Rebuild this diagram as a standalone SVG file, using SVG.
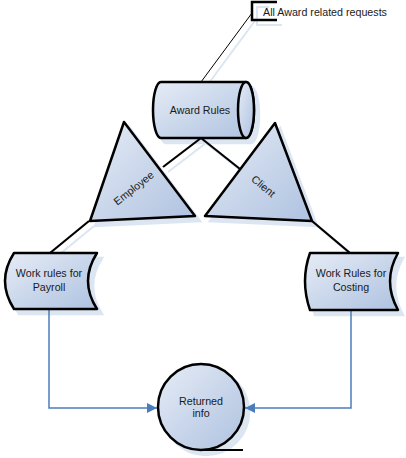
<svg xmlns="http://www.w3.org/2000/svg" width="406" height="458" viewBox="0 0 406 458">
<defs>
<linearGradient id="g" x1="0" y1="0" x2="1" y2="1">
<stop offset="0" stop-color="#e6ecf6"/>
<stop offset="1" stop-color="#aec2e0"/>
</linearGradient>
<marker id="arr" viewBox="0 0 10 10" refX="10" refY="5" markerWidth="10" markerHeight="10" markerUnits="userSpaceOnUse" orient="auto">
<path d="M0,0 L10,5 L0,10 Z" fill="#4a7ebb"/>
</marker>
</defs>
<style>
.sh{fill:#dce6f2;stroke:#dce6f2;stroke-width:2.5}
.shl{fill:none;stroke:#dce6f2;stroke-width:2}
.n{fill:url(#g);stroke:#000;stroke-width:2.5;stroke-linejoin:round}
.l{fill:none;stroke:#000;stroke-width:2.2}
.b{fill:none;stroke:#4a7ebb;stroke-width:1.5}
text{font-family:"Liberation Sans",Arial,sans-serif;font-size:10.7px;fill:#1a1a1a;text-anchor:middle}
</style>
<g id="shadows" transform="translate(5,5)">
<path class="shl" d="M252,13 L201,82" stroke-width="1"/>
<path class="shl" d="M264,2 H252 V20 H277"/>
<path class="shl" d="M201,138 L163,167 M201,138 L240,169 M89,221 L50,253 M312,221 L350,253"/>
<path class="sh" d="M161,82 L246,82 A8,28 0 0 1 246,138 L161,138 A8,28 0 0 1 161,82 Z"/>
<path class="sh" d="M124,122 L195,216 L90,221 Z"/>
<path class="sh" d="M275,123 L312,221 L205,216 Z"/>
<path class="sh" d="M14,253 L97,253 Q79,281 97,309 L14,309 Q-4,281 14,253 Z"/>
<path class="sh" d="M310,253 L398,253 Q382,281 398,310 L310,310 Q300,281 310,253 Z"/>
<circle class="sh" cx="201" cy="407" r="43"/>
</g>
<g id="connectors">
<path d="M252,13 L201,82" fill="none" stroke="#000" stroke-width="1"/>
<path class="l" d="M201,138 L163,167"/>
<path class="l" d="M201,138 L240,169"/>
<path class="l" d="M89,221 L50,253"/>
<path class="l" d="M312,221 L350,253"/>
<path class="b" d="M49,309 V408 H157" marker-end="url(#arr)"/>
<path class="b" d="M351,310 V408 H245" marker-end="url(#arr)"/>
</g>
<g id="annotation">
<path d="M277,2 H252 V20 H277" fill="none" stroke="#000" stroke-width="2.5"/>
<text x="263" y="16" style="text-anchor:start">All Award related requests</text>
</g>
<g id="award-rules">
<path class="n" d="M161,82 L246,82 A8,28 0 0 1 246,138 L161,138 A8,28 0 0 1 161,82 Z"/>
<ellipse class="n" cx="246" cy="110" rx="8" ry="28"/>
<text x="200" y="114">Award Rules</text>
</g>
<g id="employee">
<path class="n" d="M124,122 L195,216 L90,221 Z"/>
<text x="0" y="0" transform="translate(136,191) rotate(-38)">Employee</text>
</g>
<g id="client">
<path class="n" d="M275,123 L312,221 L205,216 Z"/>
<text x="0" y="0" transform="translate(261,189) rotate(40)">Client</text>
</g>
<g id="payroll">
<path class="n" d="M14,253 L97,253 Q79,281 97,309 L14,309 Q-4,281 14,253 Z"/>
<text x="49" y="277">Work rules for</text>
<text x="49" y="291">Payroll</text>
</g>
<g id="costing">
<path class="n" d="M310,253 L398,253 Q382,281 398,310 L310,310 Q300,281 310,253 Z"/>
<text x="351" y="277">Work Rules for</text>
<text x="351" y="291">Costing</text>
</g>
<g id="returned-info">
<circle class="n" cx="201" cy="407" r="43"/>
<path class="l" d="M201,450 H243" stroke-width="2.5"/>
<text x="201" y="405">Returned</text>
<text x="201" y="417">info</text>
</g>
</svg>
